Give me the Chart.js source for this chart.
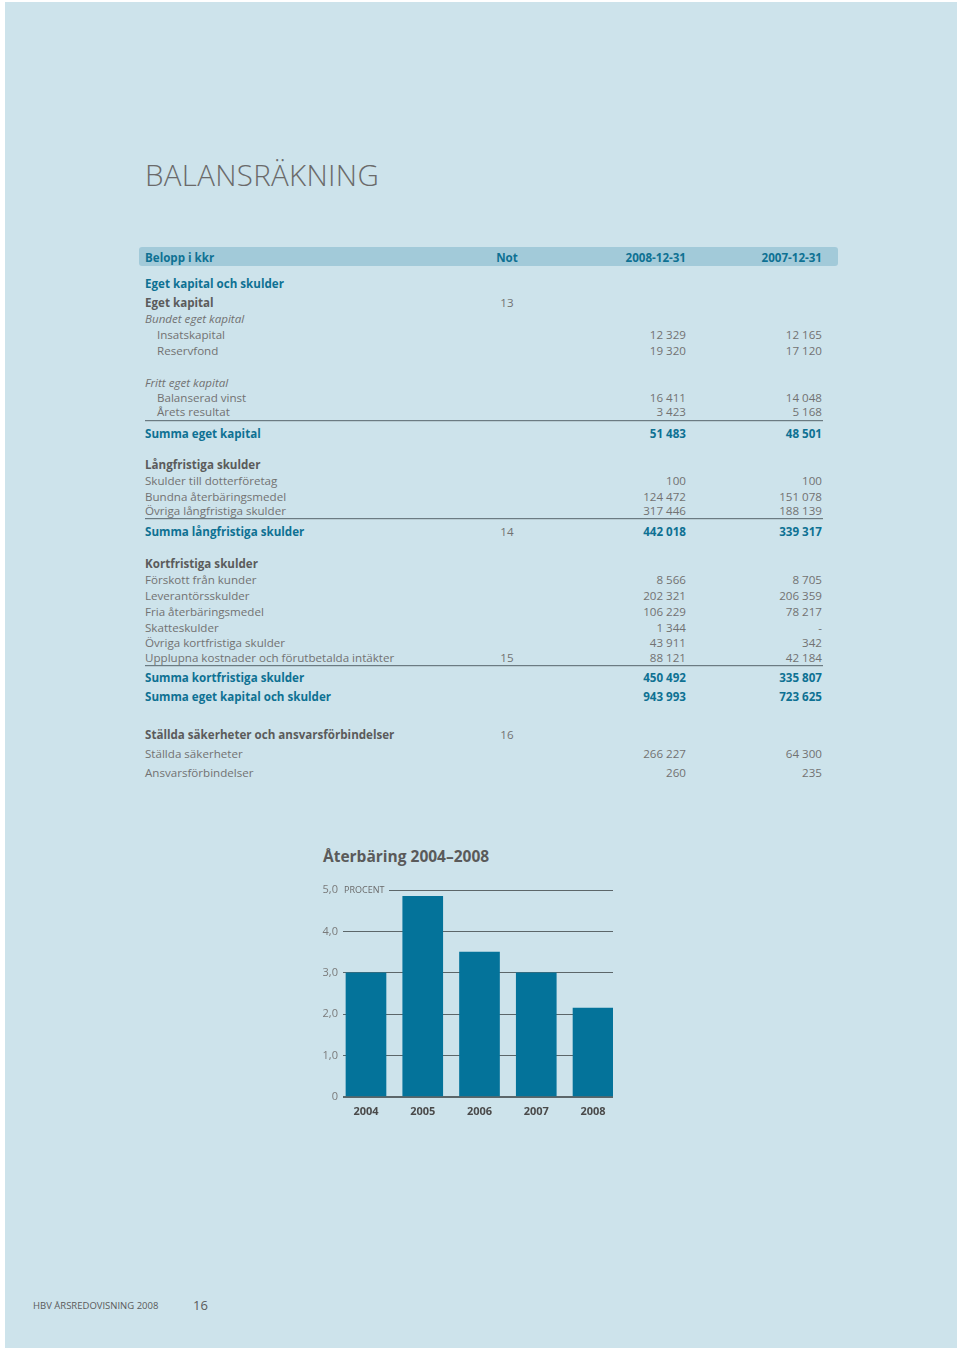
<!DOCTYPE html>
<html>
<head>
<meta charset="utf-8">
<script src="https://cdn.jsdelivr.net/npm/chart.js@4.4.1/dist/chart.umd.min.js"></script>
<style>
  html, body { margin: 0; padding: 0; background: #fff; }
  body { width: 960px; height: 1351px; position: relative; font-family: "Open Sans", "Noto Sans", sans-serif; }
  .page { position: absolute; left: 5px; top: 2px; width: 952px; height: 1346px; background: #cde3eb; }
  .abs { position: absolute; white-space: nowrap; line-height: 1; }
  h1 { position: absolute; left: 145px; top: 154px; margin: 0; font-weight: 300; font-size: 29.5px; color: #6a6a6a; letter-spacing: 0.3px; }
  .hdr { position: absolute; left: 139px; top: 247px; width: 699px; height: 19px; background: #a2cad9; border-radius: 3px; }
  .row { position: absolute; left: 0; width: 960px; height: 14px; line-height: 14px; font-size: 11.6px; color: #727272; }
  .row span { position: absolute; top: 1px; white-space: nowrap; }
  .lab { left: 145px; }
  .ind { left: 157px; }
  .note { left: 480px; width: 54px; text-align: center; }
  .c1 { right: 274px; }
  .c2 { right: 138px; }
  .teal { color: #0e7193; font-weight: 700; }
  .bold { color: #5b5b5b; font-weight: 700; }
  .ital { font-style: italic; }
  .rule { position: absolute; left: 145px; width: 678px; height: 1px; background: #6b7b82; border-bottom: 1px solid #b8ccd3; }
  .chart-title { position: absolute; left: 323px; top: 845px; font-size: 15.5px; font-weight: 700; color: #5a5a5a; }
  #wrap { position: absolute; left: 305px; top: 870px; width: 320px; height: 253px; }
</style>
</head>
<body>
<div class="page"></div>
<h1>BALANSRÄKNING</h1>
<div class="hdr"></div>
<div id="table"></div>
<div class="chart-title">Återbäring 2004–2008</div>
<div id="wrap"><canvas id="chart1"></canvas></div>
<div class="abs" style="left:33px; top:1301px; font-size:9.5px; color:#5a5a5a;">HBV ÅRSREDOVISNING 2008</div>
<div class="abs" style="left:193px; top:1299px; font-size:13px; color:#5a5a5a;">16</div>

<script>
// Chart data
const years = ['2004', '2005', '2006', '2007', '2008'];
const aterbaring = [3.0, 4.85, 3.5, 3.0, 2.15];
const yTicks = [0, 1, 2, 3, 4, 5];

// Table rows: [top, label, note, 2008, 2007, class]
const rows = [
  [250, 'Belopp i kkr', 'Not', '2008-12-31', '2007-12-31', 'teal'],
  [276, 'Eget kapital och skulder', '', '', '', 'teal'],
  [295, 'Eget kapital', '13', '', '', 'bold'],
  [311, 'Bundet eget kapital', '', '', '', 'ital'],
  [327, 'Insatskapital', '', '12 329', '12 165', 'ind'],
  [343, 'Reservfond', '', '19 320', '17 120', 'ind'],
  [375, 'Fritt eget kapital', '', '', '', 'ital'],
  [390, 'Balanserad vinst', '', '16 411', '14 048', 'ind'],
  [404, 'Årets resultat', '', '3 423', '5 168', 'ind'],
  [426, 'Summa eget kapital', '', '51 483', '48 501', 'teal'],
  [457, 'Långfristiga skulder', '', '', '', 'bold'],
  [473, 'Skulder till dotterföretag', '', '100', '100', ''],
  [489, 'Bundna återbäringsmedel', '', '124 472', '151 078', ''],
  [503, 'Övriga långfristiga skulder', '', '317 446', '188 139', ''],
  [524, 'Summa långfristiga skulder', '14', '442 018', '339 317', 'teal'],
  [556, 'Kortfristiga skulder', '', '', '', 'bold'],
  [572, 'Förskott från kunder', '', '8 566', '8 705', ''],
  [588, 'Leverantörsskulder', '', '202 321', '206 359', ''],
  [604, 'Fria återbäringsmedel', '', '106 229', '78 217', ''],
  [620, 'Skatteskulder', '', '1 344', '-', ''],
  [635, 'Övriga kortfristiga skulder', '', '43 911', '342', ''],
  [650, 'Upplupna kostnader och förutbetalda intäkter', '15', '88 121', '42 184', ''],
  [670, 'Summa kortfristiga skulder', '', '450 492', '335 807', 'teal'],
  [689, 'Summa eget kapital och skulder', '', '943 993', '723 625', 'teal'],
  [727, 'Ställda säkerheter och ansvarsförbindelser', '16', '', '', 'bold'],
  [746, 'Ställda säkerheter', '', '266 227', '64 300', ''],
  [765, 'Ansvarsförbindelser', '', '260', '235', '']
];
const rules = [420, 518, 665];

let html = '';
rows.forEach(r => {
  const cls = r[5];
  const labCls = cls === 'ind' ? 'ind' : 'lab';
  const rowStyle = (cls === 'teal' || cls === 'bold') ? cls : '';
  const labStyle = cls === 'ital' ? 'ital' : '';
  const isHead = r[0] === 250;
  // note numbers are plain grey except in the header
  const noteStyle = isHead ? 'color:#0e7193;font-weight:700' : 'color:#727272;font-weight:400';
  html += '<div class="row ' + rowStyle + '" style="top:' + r[0] + 'px">' +
    '<span class="' + labCls + ' ' + labStyle + '">' + r[1] + '</span>' +
    '<span class="note" style="' + noteStyle + '">' + r[2] + '</span>' +
    '<span class="c1">' + r[3] + '</span>' +
    '<span class="c2">' + r[4] + '</span></div>';
});
rules.forEach(y => { html += '<div class="rule" style="top:' + y + 'px"></div>'; });
document.getElementById('table').innerHTML = html;

// "PROCENT" label sits on the top gridline
const procentLabel = {
  id: 'procentLabel',
  beforeDatasetsDraw(chart) {
    const ctx = chart.ctx;
    const y = chart.scales.y.getPixelForValue(5);
    const x = chart.chartArea.left;
    ctx.save();
    ctx.fillStyle = '#cde3eb';
    ctx.fillRect(x - 1, y - 6, 47, 12);
    ctx.fillStyle = '#6a6a6a';
    ctx.font = '9px "Open Sans", sans-serif';
    ctx.textBaseline = 'middle';
    ctx.fillText('PROCENT', x + 1, y);
    ctx.restore();
  }
};

const ctx = document.getElementById('chart1').getContext('2d');
new Chart(ctx, {
  type: 'bar',
  data: {
    datasets: [{
      label: 'Återbäring',
      data: years.map((yr, i) => ({ x: Number(yr), y: aterbaring[i] })),
      backgroundColor: '#04739a',
      borderWidth: 0,
      barThickness: 40
    }]
  },
  options: {
    responsive: true,
    maintainAspectRatio: false,
    animation: false,
    layout: { padding: { top: 20, right: 12, left: 0, bottom: 0 } },
    plugins: {
      legend: { display: false },
      tooltip: { enabled: false }
    },
    scales: {
      x: {
        type: 'linear',
        offset: false,
        min: 2003.595,
        max: 2008.352,
        grid: { display: false },
        border: { display: false },
        afterBuildTicks: scale => { scale.ticks = years.map(v => ({ value: Number(v) })); },
        afterFit: scale => { scale.height = 26; },
        ticks: {
          autoSkip: false,
          maxRotation: 0,
          padding: 0,
          color: '#4a4a4a',
          font: { family: '"Open Sans", sans-serif', size: 11, weight: 'bold' },
          callback: v => String(v)
        }
      },
      y: {
        min: 0,
        max: 5,
        afterBuildTicks: scale => { scale.ticks = yTicks.map(v => ({ value: v })); },
        afterFit: scale => { scale.width = 38; },
        border: { display: false },
        grid: {
          drawTicks: false,
          color: '#5c6669',
          lineWidth: c => c.tick && c.tick.value === 0 ? 2 : 1
        },
        ticks: {
          padding: 5,
          color: '#7a7a7a',
          font: { family: '"Open Sans", sans-serif', size: 11 },
          callback: v => v === 0 ? '0' : v.toFixed(1).replace('.', ',')
        }
      }
    }
  },
  plugins: [procentLabel]
});
</script>
</body>
</html>
